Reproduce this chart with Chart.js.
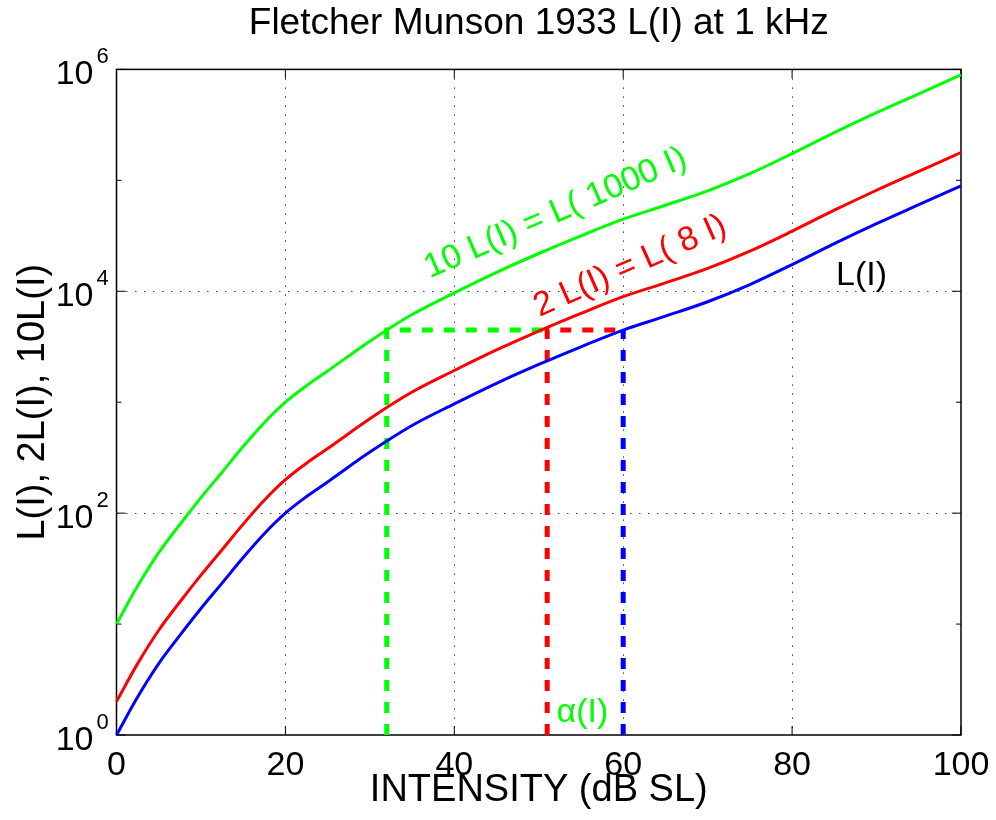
<!DOCTYPE html>
<html>
<head>
<meta charset="utf-8">
<title>Fletcher Munson 1933 L(I) at 1 kHz</title>
<script src="https://cdn.jsdelivr.net/npm/chart.js@4.4.1/dist/chart.umd.min.js"></script>
<style>
    html, body { margin: 0; padding: 0; background: #fff; }
    #wrap { width: 996px; height: 820px; }
</style>
</head>
<body>
<div id="wrap"><canvas id="chart" width="996" height="820"></canvas></div>
<script>
"use strict";

// intensity in dB SL (x) and loudness
const intensityDb = [0, 2.5, 5, 7.5, 10, 12.5, 15, 17.5, 20, 22.5, 25, 30, 35, 40, 45, 50, 55, 60, 65, 70, 75, 80, 85, 90, 95, 100];
const loudness = [1, 2.2, 4.4, 7.9, 13.8, 23.4, 39.8, 65.3, 100, 141, 191, 355, 617, 966, 1480, 2190, 3160, 4470, 5960, 8040, 11500, 17400, 26900, 40700, 60300, 89100];
const loudnessTwice = [2, 4.4, 8.8, 15.8, 27.6, 46.8, 79.6, 130.6, 200, 282, 382, 710, 1234, 1932, 2960, 4380, 6320, 8940, 11920, 16080, 23000, 34800, 53800, 81400, 120600, 178200];
const loudnessTenfold = [10, 22, 44, 79, 138, 234, 398, 653, 1000, 1410, 1910, 3550, 6170, 9660, 14800, 21900, 31600, 44700, 59600, 80400, 115000, 174000, 269000, 407000, 603000, 891000];

// construction lines: 10 L(32) = 2 L(51) = L(60)
const alphaDb = 32;
const twiceDb = 51;
const matchDb = 60;
const matchLevel = 4470;

const xTicks = [0, 20, 40, 60, 80, 100];
const yDecades = [0, 1, 2, 3, 4, 5, 6];
const yLabelDecades = [0, 2, 4, 6];

const FONT = '"Liberation Sans", Arial, Helvetica, sans-serif';
const GREEN = "#00ff00";
const RED = "#ff0000";
const BLUE = "#0000ff";
const GRID = "rgba(0, 0, 0, 0.75)";

// in-plot labels, anchored in data units (dB, loudness)
const notes = [
    { text: "10 L(I) = L( 1000 I)", x: 37.1, y: 13100, color: GREEN, angle: -23.5 },
    { text: "2 L(I) = L( 8 I)", x: 50.1, y: 5860, color: RED, angle: -24 },
    { text: "L(I)", x: 85.2, y: 11330, color: "#000", angle: 0 },
    { text: "\u03b1(I)", x: 52.1, y: 1.31, color: GREEN, angle: 0 }
];

function points(xs, ys) {
    return xs.map((x, i) => ({ x, y: ys[i] }));
}

function curve(label, values, color) {
    return {
        label,
        data: points(intensityDb, values),
        borderColor: color,
        borderWidth: 3,
        pointRadius: 0,
        fill: false,
        cubicInterpolationMode: "monotone",
        clip: false
    };
}

function dashed(label, data, color) {
    return {
        label,
        data,
        borderColor: color,
        borderWidth: 5,
        borderDash: [11, 11],
        borderCapStyle: "butt",
        pointRadius: 0,
        fill: false,
        tension: 0,
        clip: false
    };
}

const matlabAxes = {
    id: "matlabAxes",
    beforeDatasetsDraw(chart) {
        const { ctx, chartArea: a, scales: { x, y } } = chart;
        ctx.save();
        ctx.strokeStyle = "#000";
        ctx.lineWidth = 1;
        ctx.beginPath();
        for (const v of xTicks) {
            const px = x.getPixelForValue(v);
            ctx.moveTo(px, a.bottom);
            ctx.lineTo(px, a.bottom - 9);
            ctx.moveTo(px, a.top);
            ctx.lineTo(px, a.top + 9);
        }
        for (const e of yDecades) {
            const py = y.getPixelForValue(Math.pow(10, e));
            const len = e % 2 === 0 ? 9 : 5;
            ctx.moveTo(a.left, py);
            ctx.lineTo(a.left + len, py);
            ctx.moveTo(a.right, py);
            ctx.lineTo(a.right - len, py);
        }
        ctx.stroke();
        ctx.lineWidth = 1.5;
        ctx.strokeRect(a.left, a.top, a.right - a.left, a.bottom - a.top);
        ctx.restore();
    },
    afterDatasetsDraw(chart) {
        const { ctx, chartArea: a, scales: { x, y } } = chart;
        ctx.save();
        ctx.fillStyle = "#000";
        ctx.textBaseline = "alphabetic";
        for (const e of yLabelDecades) {
            const py = y.getPixelForValue(Math.pow(10, e));
            ctx.font = "34px " + FONT;
            ctx.textAlign = "right";
            ctx.fillText("10", a.left - 23, py + 14.5);
            ctx.font = "22px " + FONT;
            ctx.textAlign = "left";
            ctx.fillText(String(e), a.left - 20, py - 6);
        }
        ctx.font = "34px " + FONT;
        ctx.textAlign = "left";
        for (const n of notes) {
            ctx.save();
            ctx.translate(x.getPixelForValue(n.x), y.getPixelForValue(n.y));
            ctx.rotate(n.angle * Math.PI / 180);
            ctx.fillStyle = n.color;
            ctx.fillText(n.text, 0, 0);
            ctx.restore();
        }
        ctx.restore();
    }
};

const ctx = document.getElementById("chart").getContext("2d");
new Chart(ctx, {
    type: "line",
    data: {
        datasets: [
            curve("L(I)", loudness, BLUE),
            curve("2L(I)", loudnessTwice, RED),
            curve("10L(I)", loudnessTenfold, GREEN),
            dashed("alpha", [{ x: alphaDb, y: 1 }, { x: alphaDb, y: matchLevel }, { x: twiceDb, y: matchLevel }], GREEN),
            dashed("twice", [{ x: twiceDb, y: 1 }, { x: twiceDb, y: matchLevel }, { x: matchDb, y: matchLevel }], RED),
            dashed("match", [{ x: matchDb, y: 1 }, { x: matchDb, y: matchLevel }], BLUE)
        ]
    },
    options: {
        responsive: false,
        animation: false,
        events: [],
        layout: { padding: { left: 0, right: 35, top: 0, bottom: 0 } },
        plugins: {
            legend: { display: false },
            tooltip: { enabled: false },
            title: {
                display: true,
                text: "Fletcher Munson 1933 L(I) at 1 kHz",
                color: "#000",
                fullSize: false,
                font: { family: FONT, size: 37, weight: "normal" },
                padding: { top: 2, bottom: 23 }
            }
        },
        scales: {
            x: {
                type: "linear",
                min: 0,
                max: 100,
                afterBuildTicks: (s) => { s.ticks = xTicks.map((v) => ({ value: v })); },
                afterFit: (s) => {
                    s.height = 85;
                    s.paddingLeft = 0;
                    s.paddingRight = 0;
                },
                ticks: {
                    color: "#000",
                    font: { family: FONT, size: 34 },
                    padding: 10,
                    maxRotation: 0,
                    autoSkip: false
                },
                grid: {
                    drawTicks: false,
                    lineWidth: 1,
                    color: (c) => (c.tick && c.tick.value > 0 && c.tick.value < 100 ? GRID : "transparent")
                },
                border: { display: false, dash: [1.5, 7.5] },
                title: {
                    display: true,
                    text: "INTENSITY (dB SL)",
                    color: "#000",
                    font: { family: FONT, size: 38 },
                    padding: { top: 0, bottom: 7 }
                }
            },
            y: {
                type: "logarithmic",
                min: 1,
                max: 1e6,
                afterBuildTicks: (s) => { s.ticks = yDecades.map((e) => ({ value: Math.pow(10, e) })); },
                afterFit: (s) => { s.width = 116.5; },
                ticks: { display: false },
                grid: {
                    drawTicks: false,
                    lineWidth: 1,
                    color: (c) => (c.tick && (c.tick.value === 100 || c.tick.value === 10000) ? GRID : "transparent")
                },
                border: { display: false, dash: [1.5, 7.5] },
                title: {
                    display: true,
                    text: "L(I), 2L(I), 10L(I)",
                    color: "#000",
                    font: { family: FONT, size: 38 },
                    padding: { top: 11, bottom: 0 }
                }
            }
        }
    },
    plugins: [matlabAxes]
});
</script>
</body>
</html>
